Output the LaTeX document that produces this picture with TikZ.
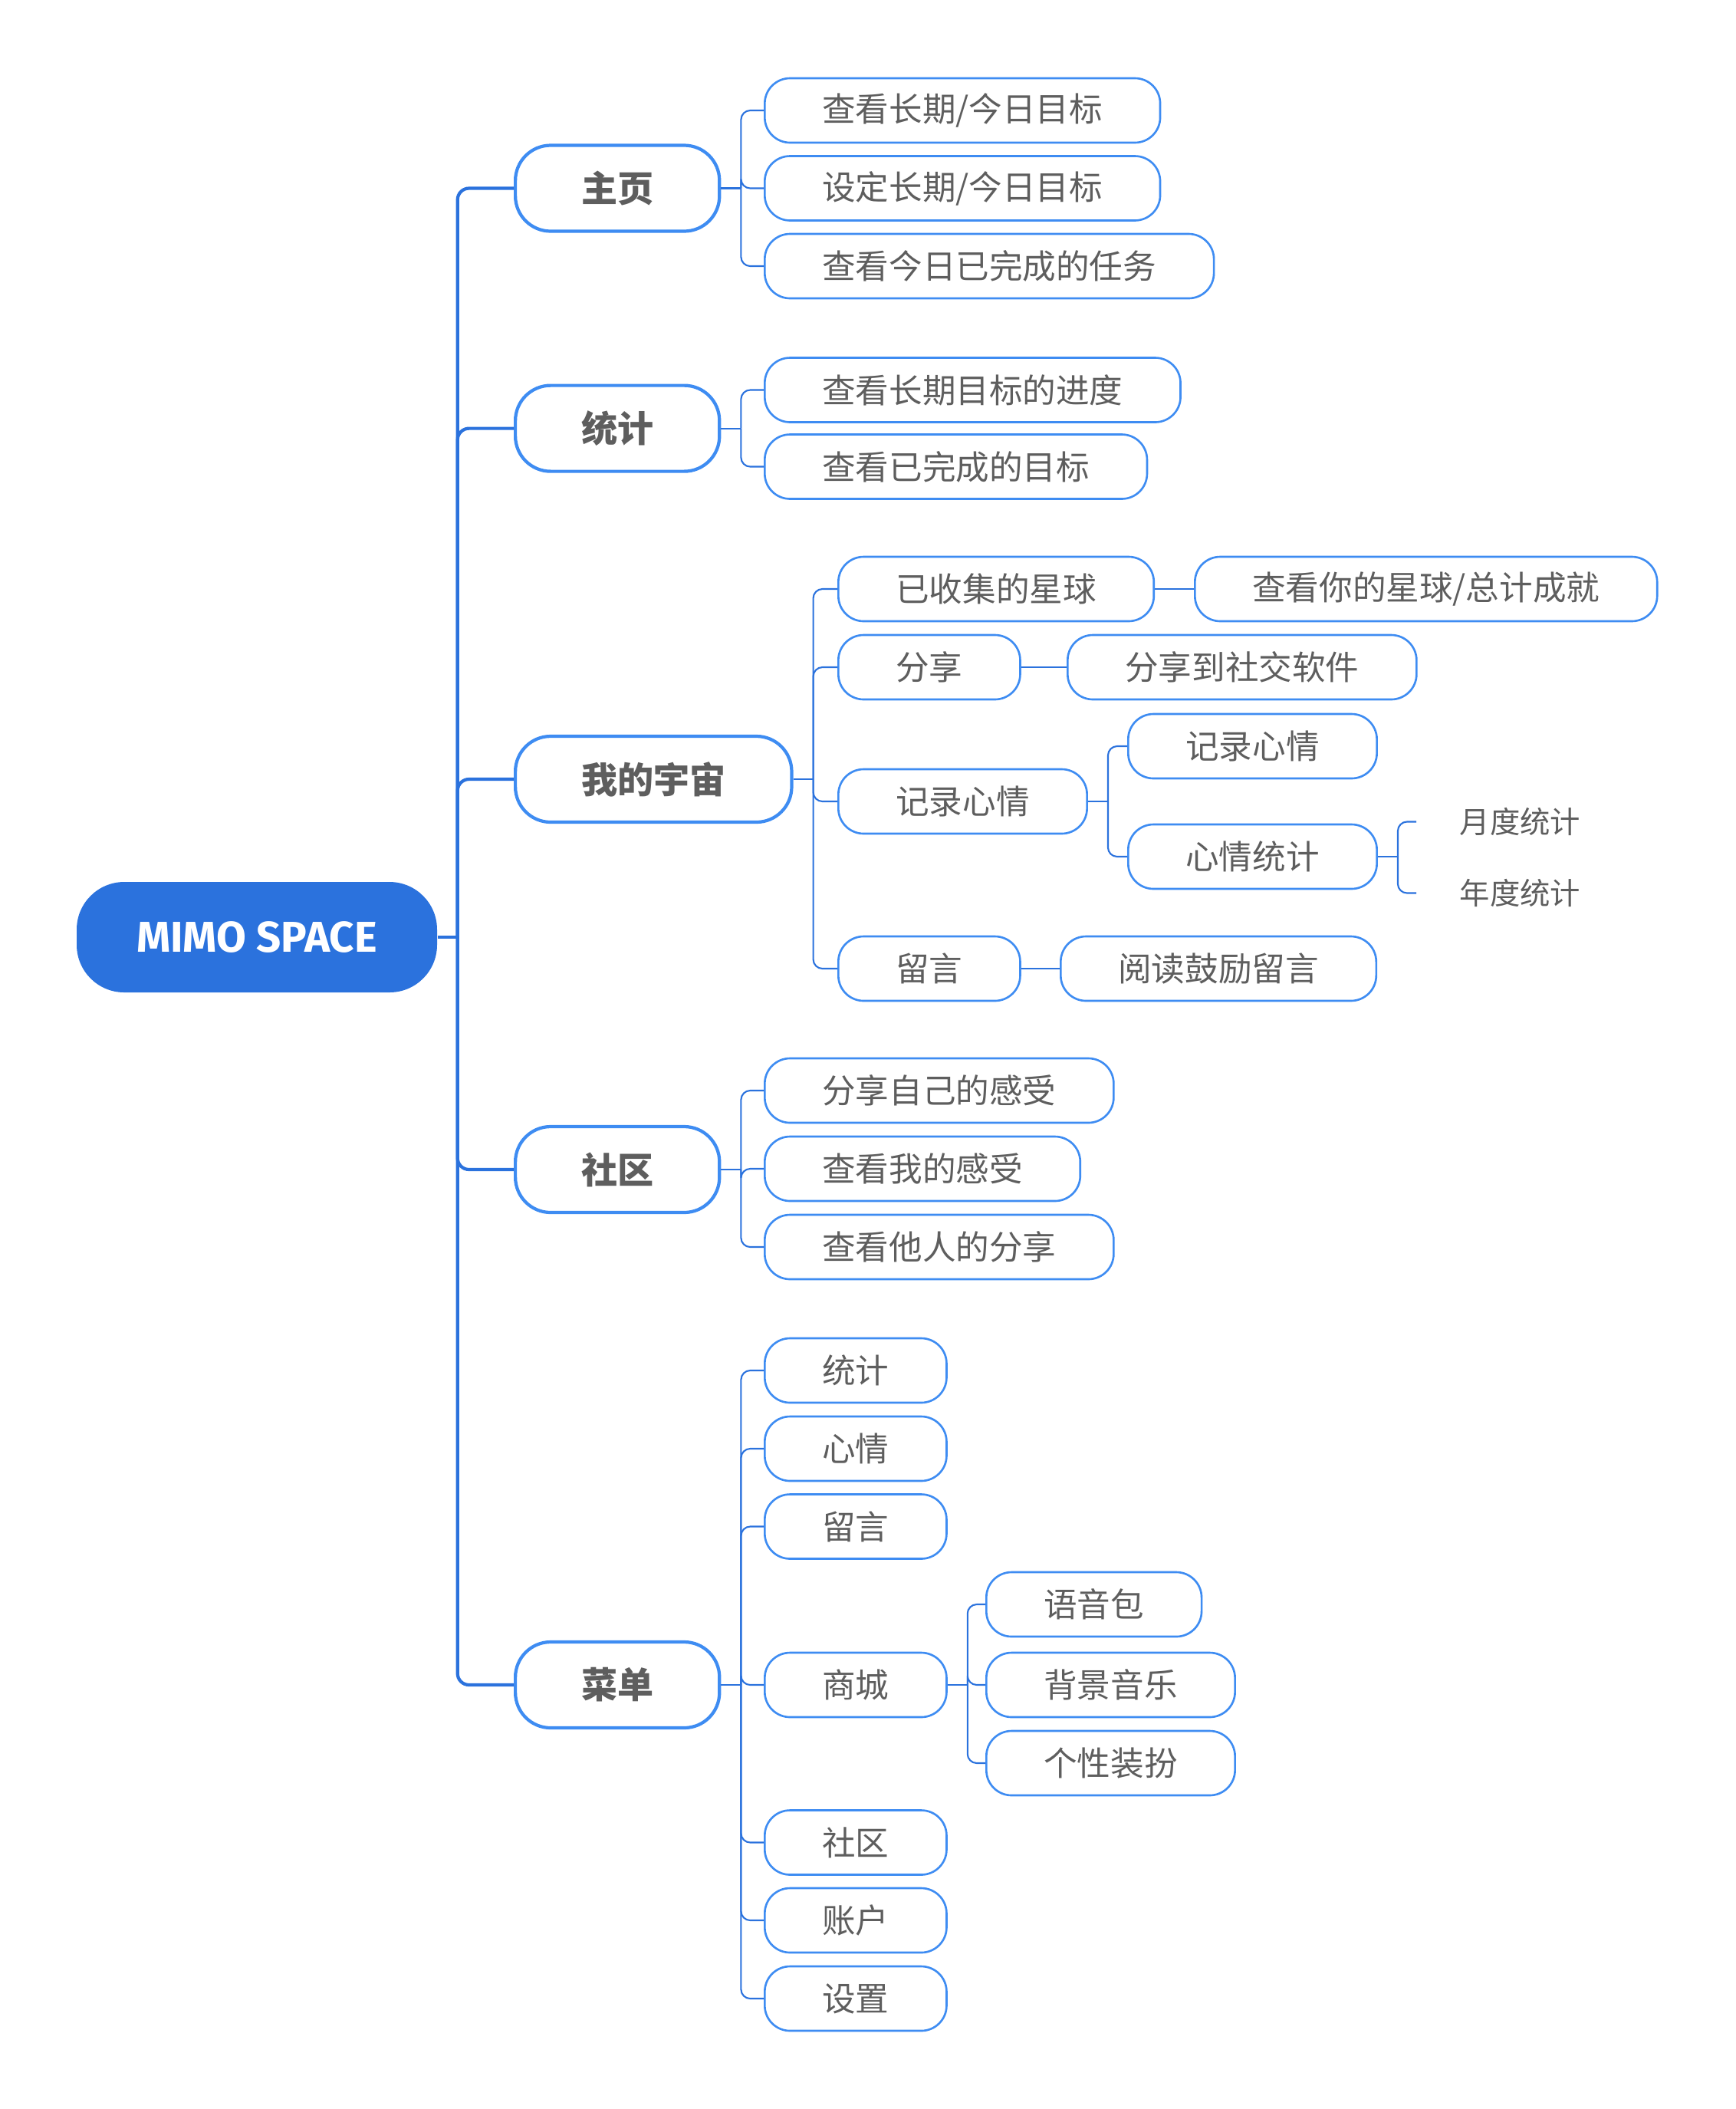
\documentclass[tikz,border=0pt]{standalone}
\usepackage{fontspec}
\setmainfont{Noto Sans CJK SC}
\newfontfamily\rootfont{Fira Sans}
\definecolor{mimoblue}{HTML}{2B72DD}
\definecolor{edgeblue}{HTML}{3E8CF2}
\definecolor{txtgray}{HTML}{5E5E5E}
\begin{document}
\begin{tikzpicture}[
    rootbox/.style={fill=mimoblue, text=white, rounded corners=0.62cm,
        minimum width=4.7cm, minimum height=1.44cm,
        font=\rootfont\bfseries\fontsize{16pt}{19pt}\selectfont},
    topic/.style={draw=edgeblue, line width=1.2pt, fill=white, text=txtgray,
        rounded corners=0.46cm, anchor=west, inner xsep=0.86cm, inner ysep=0pt,
        minimum height=1.12cm, font=\bfseries\fontsize{13.4pt}{16pt}\selectfont},
    sub/.style={draw=edgeblue, line width=0.75pt, fill=white, text=txtgray,
        rounded corners=0.33cm, anchor=west, inner xsep=0.75cm, inner ysep=0pt,
        minimum height=0.84cm, font=\fontsize{12.4pt}{14pt}\selectfont},
    leaf/.style={text=txtgray, anchor=west, inner xsep=0.56cm,
        font=\fontsize{11.2pt}{13pt}\selectfont},
    l1/.style={draw=mimoblue, line width=1.2pt},
    l2/.style={draw=mimoblue, line width=0.6pt}
]
    \useasboundingbox (0,0) rectangle (22.64,-27.5);

    \node[rootbox] (R) at (3.35,-12.22) {MIMO SPACE};

    \node[topic] (A) at (6.70,-2.455) {主页};
    \node[topic] (B) at (6.70,-5.586) {统计};
    \node[topic] (C) at (6.70,-10.16) {我的宇宙};
    \node[topic] (D) at (6.70,-15.25) {社区};
    \node[topic] (E) at (6.70,-21.97) {菜单};

    \node[sub] (A1) at (9.96,-1.44) {查看长期/今日目标};
    \node[sub] (A2) at (9.96,-2.455) {设定长期/今日目标};
    \node[sub] (A3) at (9.96,-3.47) {查看今日已完成的任务};

    \node[sub] (B1) at (9.96,-5.085) {查看长期目标的进度};
    \node[sub] (B2) at (9.96,-6.085) {查看已完成的目标};

    \node[sub] (C1) at (10.92,-7.68) {已收集的星球};
    \node[sub] (C2) at (10.92,-8.70) {分享};
    \node[sub] (C3) at (10.92,-10.45) {记录心情};
    \node[sub] (C4) at (10.92,-12.63) {留言};

    \node[sub] (C1a) at (15.57,-7.68) {查看你的星球/总计成就};
    \node[sub] (C2a) at (13.91,-8.70) {分享到社交软件};
    \node[sub] (C3a) at (14.70,-9.73) {记录心情};
    \node[sub] (C3b) at (14.70,-11.17) {心情统计};
    \node[sub] (C4a) at (13.82,-12.63) {阅读鼓励留言};

    \node[leaf] (M1) at (18.47,-10.715) {月度统计};
    \node[leaf] (M2) at (18.47,-11.645) {年度统计};

    \node[sub] (D1) at (9.96,-14.22) {分享自己的感受};
    \node[sub] (D2) at (9.96,-15.24) {查看我的感受};
    \node[sub] (D3) at (9.96,-16.26) {查看他人的分享};

    \node[sub] (E1) at (9.96,-17.87) {统计};
    \node[sub] (E2) at (9.96,-18.89) {心情};
    \node[sub] (E3) at (9.96,-19.905) {留言};
    \node[sub] (E4) at (9.96,-21.97) {商城};
    \node[sub] (E5) at (9.96,-24.025) {社区};
    \node[sub] (E6) at (9.96,-25.04) {账户};
    \node[sub] (E7) at (9.96,-26.06) {设置};

    \node[sub] (E4a) at (12.85,-20.92) {语音包};
    \node[sub] (E4b) at (12.85,-21.97) {背景音乐};
    \node[sub] (E4c) at (12.85,-22.99) {个性装扮};

    % trunk
    \draw[l1] (R.east) -- ++(0.26,0) coordinate (r);
    \foreach \n in {A,B,C,D,E}
        \draw[l1, rounded corners=0.15cm] (r) |- (\n.west);

    % brackets
    \draw[l2] (A.east) -- ++(0.26,0) coordinate (a);
    \foreach \n in {A1,A2,A3}
        \draw[l2, rounded corners=0.12cm] (a) |- (\n.west);
    \draw[l2] (B.east) -- ++(0.26,0) coordinate (b);
    \foreach \n in {B1,B2}
        \draw[l2, rounded corners=0.12cm] (b) |- (\n.west);
    \draw[l2] (C.east) -- ++(0.26,0) coordinate (c);
    \foreach \n in {C1,C2,C3,C4}
        \draw[l2, rounded corners=0.12cm] (c) |- (\n.west);
    \draw[l2] (D.east) -- ++(0.26,0) coordinate (d);
    \foreach \n in {D1,D2,D3}
        \draw[l2, rounded corners=0.12cm] (d) |- (\n.west);
    \draw[l2] (E.east) -- ++(0.26,0) coordinate (e);
    \foreach \n in {E1,E2,E3,E4,E5,E6,E7}
        \draw[l2, rounded corners=0.12cm] (e) |- (\n.west);

    \path [l2] (C1) edge (C1a);
    \path [l2] (C2) edge (C2a);
    \path [l2] (C4) edge (C4a);

    \draw[l2] (C3.east) -- ++(0.26,0) coordinate (c3);
    \foreach \n in {C3a,C3b}
        \draw[l2, rounded corners=0.12cm] (c3) |- (\n.west);
    \draw[l2] (C3b.east) -- ++(0.26,0) coordinate (c3b);
    \foreach \n in {M1,M2}
        \draw[l2, rounded corners=0.12cm] (c3b) |- (\n.west);
    \draw[l2] (E4.east) -- ++(0.26,0) coordinate (e4);
    \foreach \n in {E4a,E4b,E4c}
        \draw[l2, rounded corners=0.12cm] (e4) |- (\n.west);
\end{tikzpicture}
\end{document}
